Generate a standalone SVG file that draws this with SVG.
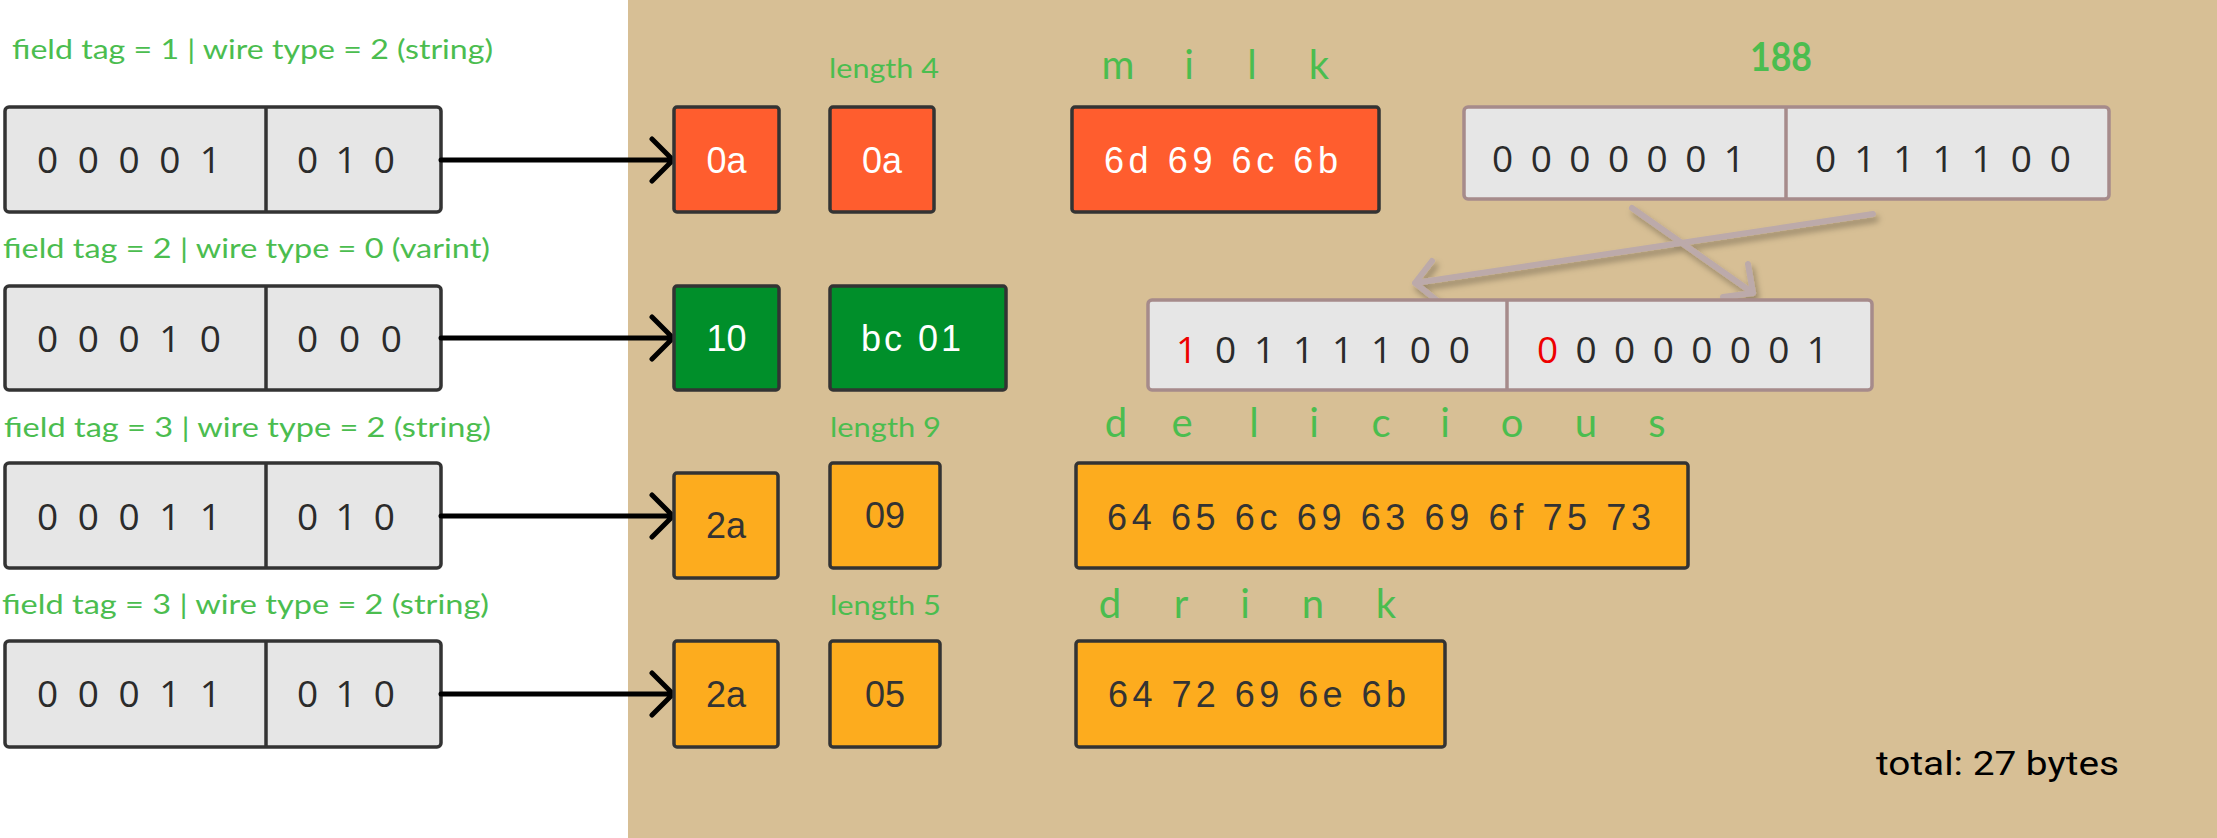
<svg xmlns="http://www.w3.org/2000/svg" width="2217" height="838" viewBox="0 0 2217 838">
<defs>
<style>
.lbl{font-family:Lato,"Open Sans",sans-serif;fill:#4bbd4f;font-size:27px}
.big{font-family:Lato,"Open Sans",sans-serif;font-size:40px;fill:#4bbd4f}
.bits{font-family:"Open Sans","Liberation Sans",sans-serif;font-size:37px;fill:#2b2b2b}
.hex{font-family:"Liberation Sans",Arial,sans-serif;font-size:36px}
.w{fill:#ffffff}
.d{fill:#333333}
.red{fill:#ee0000}
.gbox{fill:#e6e6e6;stroke:#333333;stroke-width:3.5}
.mbox{fill:#e6e6e6;stroke:#a68b8b;stroke-width:3.5}
.or{fill:#ff5d2e;stroke:#333333;stroke-width:3.5}
.gr{fill:#008f2a;stroke:#333333;stroke-width:3.5}
.ye{fill:#fdac1e;stroke:#333333;stroke-width:3.5}
.div{stroke:#333333;stroke-width:3.5}
.mdiv{stroke:#a68b8b;stroke-width:3.5}
.arr{fill:none;stroke:#000000;stroke-width:5;stroke-linecap:round;stroke-linejoin:round}
.marr{fill:none;stroke:#bcaaaa;stroke-width:6;stroke-linecap:round;stroke-linejoin:round}
</style>
<filter id="sh" x="-10%" y="-30%" width="130%" height="180%"><feDropShadow dx="3" dy="5" stdDeviation="3" flood-color="#000000" flood-opacity="0.3"/></filter>
</defs>

<rect x="628" y="0" width="1589" height="838" fill="#d7bf95"/>

<!-- left labels -->
<g id="label1"><text class="lbl" x="12" y="59" textLength="481" lengthAdjust="spacingAndGlyphs">field tag = 1 | wire type = 2 (string)</text></g>
<g id="label2"><text class="lbl" x="3" y="258" textLength="487" lengthAdjust="spacingAndGlyphs">field tag = 2 | wire type = 0 (varint)</text></g>
<g id="label3"><text class="lbl" x="4" y="437" textLength="487" lengthAdjust="spacingAndGlyphs">field tag = 3 | wire type = 2 (string)</text></g>
<g id="label4"><text class="lbl" x="2" y="614" textLength="487" lengthAdjust="spacingAndGlyphs">field tag = 3 | wire type = 2 (string)</text></g>

<!-- key boxes -->
<g id="key1">
<rect class="gbox" x="5" y="107" width="436" height="105" rx="4"/>
<line class="div" x1="266" y1="107" x2="266" y2="212"/>
<text class="bits" x="37" y="173" textLength="184" lengthAdjust="spacing">0 0 0 0 1</text>
<text class="bits" x="297" y="173" textLength="98" lengthAdjust="spacing">0 1 0</text>
</g>
<g id="key2">
<rect class="gbox" x="5" y="286" width="436" height="104" rx="4"/>
<line class="div" x1="266" y1="286" x2="266" y2="390"/>
<text class="bits" x="37" y="352" textLength="184" lengthAdjust="spacing">0 0 0 1 0</text>
<text class="bits" x="297" y="352" textLength="105" lengthAdjust="spacing">0 0 0</text>
</g>
<g id="key3">
<rect class="gbox" x="5" y="463" width="436" height="105" rx="4"/>
<line class="div" x1="266" y1="463" x2="266" y2="568"/>
<text class="bits" x="37" y="530" textLength="184" lengthAdjust="spacing">0 0 0 1 1</text>
<text class="bits" x="297" y="530" textLength="98" lengthAdjust="spacing">0 1 0</text>
</g>
<g id="key4">
<rect class="gbox" x="5" y="641" width="436" height="106" rx="4"/>
<line class="div" x1="266" y1="641" x2="266" y2="747"/>
<text class="bits" x="37" y="707" textLength="184" lengthAdjust="spacing">0 0 0 1 1</text>
<text class="bits" x="297" y="707" textLength="98" lengthAdjust="spacing">0 1 0</text>
</g>

<!-- connectors -->
<g id="connectors">
<path class="arr" d="M441,160 H672 M652,139 L673,160 L652,181"/>
<path class="arr" d="M441,338 H672 M652,317 L673,338 L652,359"/>
<path class="arr" d="M441,516 H672 M652,495 L673,516 L652,537"/>
<path class="arr" d="M441,694 H672 M652,673 L673,694 L652,715"/>
<g filter="url(#sh)">
<path class="marr" d="M1873,214 L1415,283 M1432,261 L1415,283 L1439,302"/>
<path class="marr" d="M1632,208 L1753,293 M1748,264 L1753,293 L1723,297"/>
</g>
</g>

<!-- tag bytes -->
<g id="tag1"><rect class="or" x="674" y="107" width="105" height="105" rx="3"/><text class="hex w" x="726.5" y="173" text-anchor="middle">0a</text></g>
<g id="tag2"><rect class="gr" x="674" y="286" width="105" height="104" rx="3"/><text class="hex w" x="726.5" y="351" text-anchor="middle">10</text></g>
<g id="tag3"><rect class="ye" x="674" y="473" width="104" height="105" rx="3"/><text class="hex d" x="726" y="538" text-anchor="middle">2a</text></g>
<g id="tag4"><rect class="ye" x="674" y="641" width="104" height="106" rx="3"/><text class="hex d" x="726" y="707" text-anchor="middle">2a</text></g>

<!-- length / value bytes -->
<g id="len1"><text class="lbl" x="829" y="78" textLength="110" lengthAdjust="spacingAndGlyphs">length 4</text><rect class="or" x="830" y="107" width="104" height="105" rx="3"/><text class="hex w" x="882" y="173" text-anchor="middle">0a</text></g>
<g id="val2"><rect class="gr" x="830" y="286" width="176" height="104" rx="3"/><text class="hex w" x="861" y="351" textLength="100" lengthAdjust="spacing">bc  01</text></g>
<g id="len3"><text class="lbl" x="830" y="437" textLength="111" lengthAdjust="spacingAndGlyphs">length 9</text><rect class="ye" x="830" y="463" width="110" height="105" rx="3"/><text class="hex d" x="885" y="528" text-anchor="middle">09</text></g>
<g id="len4"><text class="lbl" x="830" y="615" textLength="111" lengthAdjust="spacingAndGlyphs">length 5</text><rect class="ye" x="830" y="641" width="110" height="106" rx="3"/><text class="hex d" x="885" y="707" text-anchor="middle">05</text></g>

<!-- strings -->
<g id="milk">
<text class="big" x="1118 1189 1252 1319" y="79" text-anchor="middle">milk</text>
<rect class="or" x="1072" y="107" width="307" height="105" rx="3"/>
<text class="hex w" x="1104" y="173" textLength="234" lengthAdjust="spacing">6d  69  6c  6b</text>
</g>
<g id="delicious">
<text class="big" x="1116 1182 1254 1314 1381 1445 1512 1586 1657" y="437" text-anchor="middle">delicious</text>
<rect class="ye" x="1076" y="463" width="612" height="105" rx="3"/>
<text class="hex d" x="1107" y="530" textLength="544" lengthAdjust="spacing">64 65 6c 69 63 69 6f 75 73</text>
</g>
<g id="drink">
<text class="big" x="1110 1181 1245 1313 1386" y="618" text-anchor="middle">drink</text>
<rect class="ye" x="1076" y="641" width="369" height="106" rx="3"/>
<text class="hex d" x="1108" y="707" textLength="298" lengthAdjust="spacing">64 72 69 6e 6b</text>
</g>

<!-- varint 188 -->
<g id="v188">
<text class="big" x="1750" y="71" font-weight="bold" textLength="62" lengthAdjust="spacingAndGlyphs">188</text>
<rect class="mbox" x="1464" y="107" width="645" height="92" rx="4"/>
<line class="mdiv" x1="1786" y1="107" x2="1786" y2="199"/>
<text class="bits" x="1492" y="172" textLength="253" lengthAdjust="spacing">0 0 0 0 0 0 1</text>
<text class="bits" x="1815" y="172" textLength="256" lengthAdjust="spacing">0 1 1 1 1 0 0</text>
</g>
<g id="varintbytes">
<rect class="mbox" x="1148" y="300" width="724" height="90" rx="4"/>
<line class="mdiv" x1="1507" y1="300" x2="1507" y2="390"/>
<text class="bits" x="1176" y="363" textLength="294" lengthAdjust="spacing"><tspan class="red">1</tspan> 0 1 1 1 1 0 0</text>
<text class="bits" x="1537" y="363" textLength="291" lengthAdjust="spacing"><tspan class="red">0</tspan> 0 0 0 0 0 0 1</text>
</g>

<g id="total"><text x="1876" y="775" font-family="Roboto, 'Liberation Sans', sans-serif" font-size="34" fill="#000000" textLength="243" lengthAdjust="spacingAndGlyphs">total: 27 bytes</text></g>
</svg>
